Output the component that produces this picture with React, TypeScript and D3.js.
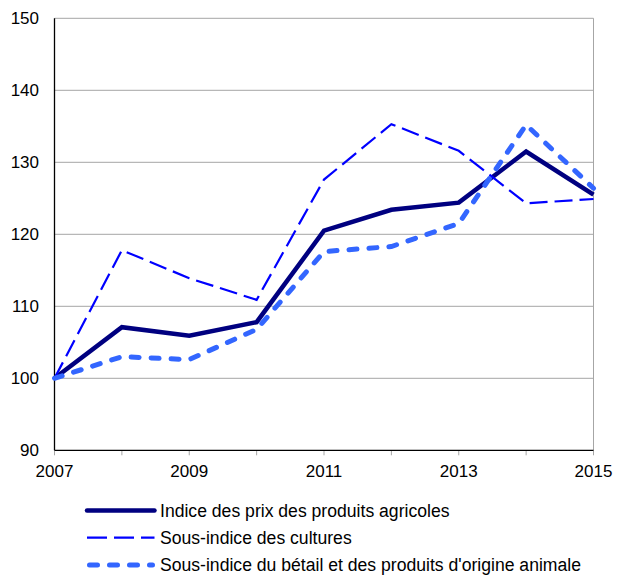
import React from "react";
import * as d3 from "d3";

const years = [2007, 2008, 2009, 2010, 2011, 2012, 2013, 2014, 2015];
const agri = [100, 107.1, 105.9, 107.8, 120.5, 123.4, 124.4, 131.5, 125.5];
const crops = [100, 117.8, 113.9, 110.9, 127.6, 135.3, 131.6, 124.3, 124.9];
const livestock = [100, 103.0, 102.6, 106.8, 117.6, 118.3, 121.5, 135.2, 126.4];
const yTicks = [90, 100, 110, 120, 130, 140, 150];
const xLabels = [2007, 2009, 2011, 2013, 2015];
const seriesNames = [
  "Indice des prix des produits agricoles",
  "Sous-indice des cultures",
  "Sous-indice du bétail et des produits d'origine animale",
];

const W = 622, H = 576;
const L = 54.5, R = 593.5, T = 18.3, B = 450.3;

export default function App() {
  const x = d3.scaleLinear().domain([2007, 2015]).range([L, R]);
  const y = d3.scaleLinear().domain([90, 150]).range([B, T]);
  const line = (vals: number[]) =>
    d3.line<number>().x((_, i) => x(years[i])).y((v) => y(v))(vals) || "";

  const styles = [
    { stroke: "#000080", width: 4.5, dash: undefined as string | undefined, cap: "butt" },
    { stroke: "#0000FF", width: 2.2, dash: "18,7", cap: "butt" },
    { stroke: "#3366FF", width: 5, dash: "8,12", cap: "round" },
  ];
  const data = [agri, crops, livestock];
  const font = "Arial, 'Liberation Sans', sans-serif";

  return (
    <svg width={W} height={H} style={{ position: "absolute", left: 0, top: 0 }} fontFamily={font}>
      <rect width={W} height={H} fill="#fff" />
      {yTicks.filter((t) => t > 90).map((t) => (
        <line key={t} x1={L} x2={R} y1={y(t)} y2={y(t)} stroke="#A6A6A6" strokeWidth={1} />
      ))}
      <line x1={R} x2={R} y1={T} y2={B} stroke="#A6A6A6" strokeWidth={1} />
      {years.map((yr) => (
        <line key={yr} x1={x(yr)} x2={x(yr)} y1={B} y2={B + 5} stroke="#A6A6A6" strokeWidth={1} />
      ))}
      <line x1={L} x2={L} y1={T} y2={B} stroke="#000" strokeWidth={1.3} />
      <line x1={L} x2={R} y1={B} y2={B} stroke="#000" strokeWidth={1.3} />
      {yTicks.map((t) => (
        <text key={t} x={39} y={y(t) + 6} textAnchor="end" fontSize={17} fill="#000">
          {t}
        </text>
      ))}
      {xLabels.map((t) => (
        <text key={t} x={x(t)} y={477} textAnchor="middle" fontSize={17} fill="#000">
          {t}
        </text>
      ))}
      {data.map((d, i) => (
        <path
          key={i}
          d={line(d)}
          fill="none"
          stroke={styles[i].stroke}
          strokeWidth={styles[i].width}
          strokeDasharray={styles[i].dash}
          strokeLinecap={styles[i].cap as any}
          strokeLinejoin="miter"
        />
      ))}
      {seriesNames.map((n, i) => {
        const ly = 510.5 + i * 27.2;
        return (
          <g key={n}>
            <line
              x1={i === 2 ? 89.5 : 87}
              x2={i === 2 ? 152.5 : 154.5}
              y1={ly}
              y2={ly}
              stroke={styles[i].stroke}
              strokeWidth={styles[i].width}
              strokeDasharray={i === 1 ? "20,7" : styles[i].dash}
              strokeLinecap={i === 0 ? "round" : (styles[i].cap as any)}
            />
            <text x={160} y={ly + 6.3} fontSize={17.6} fill="#000">
              {n}
            </text>
          </g>
        );
      })}
    </svg>
  );
}
